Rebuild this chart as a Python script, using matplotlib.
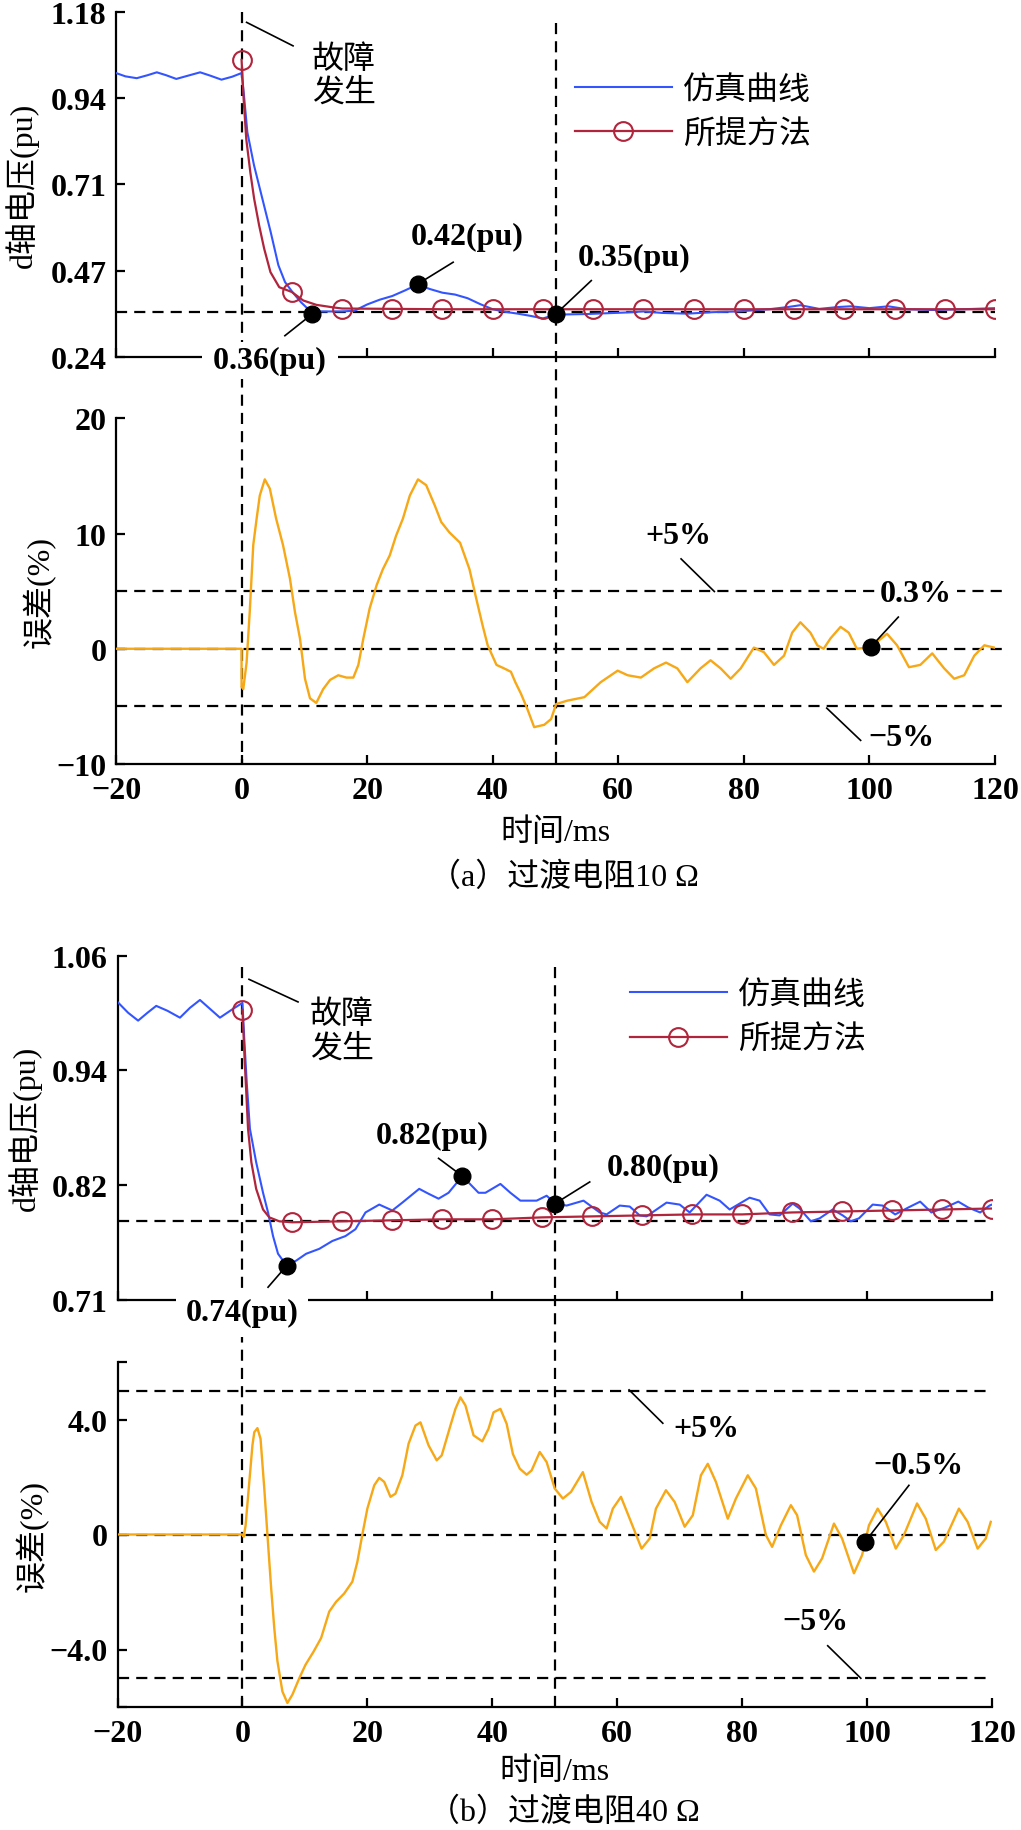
import matplotlib
matplotlib.use("Agg")
import matplotlib.pyplot as plt
from matplotlib.transforms import blended_transform_factory

plt.rcParams['font.family'] = ['Liberation Serif', 'Noto Sans CJK SC']
plt.rcParams['font.size'] = 23
plt.rcParams['axes.unicode_minus'] = True

BLUE = '#3355ff'
RED = '#b0243c'
ORANGE = '#f6a816'
DASH = (0, (5, 3.2))
W, H = 1021, 1831

# ---------------- (a) 10 ohm ----------------
sim_a_t = [-20, -18.5, -16.7, -15, -13.5, -12, -10.4, -8.5, -6.6, -5, -3.2, -1.5, 0,
           0.39, 0.92, 1.98, 3.31, 4.64, 5.86, 6.92, 8.09, 9.41, 10.5, 11.3, 12, 14, 16, 18,
           20, 22, 24, 26, 28, 30, 32, 34, 36, 38, 40, 42, 44, 46, 48, 50, 52, 55, 58, 61,
           64, 67, 71, 75, 79, 84, 87, 89, 92, 95, 97, 100, 103, 106, 110, 115, 120]
sim_a_v = [1.013, 1.004, 0.999, 1.007, 1.015, 1.007, 0.997, 1.006, 1.015, 1.006, 0.995, 1.003, 1.013,
           0.951, 0.852, 0.762, 0.671, 0.580, 0.490, 0.444, 0.417, 0.390, 0.372, 0.365, 0.364, 0.364, 0.364, 0.366,
           0.383, 0.396, 0.406, 0.421, 0.437, 0.425, 0.415, 0.410, 0.400, 0.384, 0.370, 0.363, 0.358, 0.352, 0.345, 0.355, 0.356, 0.357, 0.359, 0.361,
           0.364, 0.360, 0.358, 0.362, 0.364, 0.370, 0.376, 0.381, 0.371, 0.376, 0.378, 0.373, 0.378, 0.370, 0.368, 0.370, 0.373]

prop_a_t = [0, 0.33, 0.75, 1.4, 2, 2.8, 3.6, 4.6, 6, 8, 9.8, 11.9, 14.6, 16, 24, 32, 40, 48, 56,
            64, 72, 80, 88, 96, 104, 112, 120]
prop_a_v = [1.049, 0.942, 0.833, 0.742, 0.671, 0.598, 0.535, 0.471, 0.430, 0.417, 0.394, 0.382, 0.375,
            0.372, 0.371, 0.370, 0.370, 0.370, 0.370, 0.370, 0.370, 0.370, 0.370, 0.370, 0.370, 0.370, 0.370]

err_a_t = [-20, 0, 0, 0.27, 0.8, 1.3, 1.86, 2.4, 2.9, 3.7, 4.5, 5.5, 6.6, 7.7, 8.5, 9.3, 10.1, 10.9,
           11.9, 13, 14.1, 15.4, 16.7, 17.8, 18.6, 19.4, 20.4, 21.5, 22.5, 23.6, 24.6, 25.7, 26.8,
           28.1, 29.4, 30.8, 31.8, 33.1, 34.8, 36.3, 37.4, 38.4, 39.2, 40.6, 41.8, 42.9, 43.6, 44.5,
           45.5, 46.6, 48.2, 49.3, 50.1, 51.9, 54.6, 57.2, 59.9, 61.5, 63.6, 65.7, 67.6, 69.4, 71,
           73.1, 74.7, 76.3, 77.9, 79.5, 81.6, 83.2, 84.8, 86.4, 87.7, 89, 90.6, 91.7, 92.7, 93.8,
           95.4, 96.7, 98, 100.2, 102.8, 104.4, 106.3, 108.1, 110, 111.9, 113.5, 115.1, 116.7,
           118.3, 119.9]
err_a_v = [0, 0, -3.3, -3.5, -1.2, 3.2, 9.0, 11.3, 13.3, 14.7, 13.9, 11.3, 9.0, 6.1, 3.2, 0.9, -2.6, -4.3,
           -4.7, -3.5, -2.7, -2.3, -2.5, -2.5, -1.4, 0.9, 3.5, 5.5, 6.9, 8.1, 9.8, 11.3, 13.3,
           14.7, 14.2, 12.4, 11.0, 10.1, 9.2, 6.9, 4.3, 2.0, 0.3, -1.4, -1.7, -2.0, -2.9, -3.9,
           -5.2, -6.8, -6.6, -6.1, -4.8, -4.5, -4.2, -2.9, -1.9, -2.3, -2.5, -1.7, -1.2, -1.7, -2.9,
           -1.7, -1.0, -1.7, -2.6, -1.7, 0.1, -0.3, -1.4, -0.6, 1.4, 2.3, 1.4, 0.3, 0.0, 0.9,
           1.9, 1.4, 0.0, 0.15, 1.3, 0.3, -1.6, -1.4, -0.4, -1.7, -2.6, -2.3, -0.6,
           0.3, 0.1]

ref_a = 0.363
pts_a_t = [11.25, 28.1, 50.05]
pts_a_v = [0.357, 0.439, 0.357]
err_pt_a = (100.2, 0.15)

# ---------------- (b) 40 ohm ----------------
sim_b_t = [-20, -18.3, -16.7, -15.2, -13.8, -12, -10, -8.4, -6.8, -5.2, -3.6, -1.5, 0,
           0.3, 0.7, 1.2, 2.2, 3.3, 4.1, 4.9, 5.7, 6.5, 7.1, 8.6, 10.2, 12.3, 14.4, 16.5, 18.1,
           19.7, 21.9, 24, 25.6, 28.3, 29.8, 31.4, 33, 35.2, 37.8, 38.9, 41.3, 42.9, 44.5, 47.1,
           48.7, 50.1, 51.9, 54.6, 57.2, 58.3, 60.4, 62, 63.6, 64.7, 67.9, 70, 71.6, 74.3, 76.4,
           78, 81.2, 82.8, 84.4, 86, 88.1, 89.2, 91, 92.4, 94.5, 96.1, 97.4, 98.7, 100.9, 102.5,
           104.5, 106.6, 108.5, 110.3, 112.5, 114.6, 116.2, 118.1, 119.6, 120]
sim_b_v = [1.013, 1.002, 0.994, 1.002, 1.009, 1.004, 0.997, 1.007, 1.015, 1.006, 0.997, 1.006, 1.012,
           0.975, 0.930, 0.884, 0.850, 0.819, 0.799, 0.775, 0.757, 0.750, 0.745, 0.750, 0.757, 0.762, 0.770, 0.775, 0.782,
           0.799, 0.807, 0.801, 0.809, 0.823, 0.818, 0.813, 0.819, 0.836, 0.819, 0.819, 0.828, 0.819, 0.811, 0.811,
           0.816, 0.808, 0.806, 0.811, 0.799, 0.797, 0.806, 0.805, 0.796, 0.795, 0.809, 0.807, 0.799, 0.817, 0.811,
           0.802, 0.814, 0.811, 0.797, 0.796, 0.808, 0.803, 0.790, 0.793, 0.802, 0.796, 0.790, 0.793, 0.807, 0.806,
           0.797, 0.804, 0.810, 0.799, 0.804, 0.810, 0.804, 0.799, 0.806, 0.807]

prop_b_t = [0, 0.37, 0.64, 0.9, 1.43, 2.2, 3.3, 4.3, 5.9, 8, 16, 24, 32, 40, 48, 56, 64, 72, 80,
            88, 96, 104, 112, 120]
prop_b_v = [1.005, 0.952, 0.918, 0.884, 0.850, 0.823, 0.802, 0.794, 0.790, 0.789, 0.790, 0.791, 0.792,
            0.792, 0.794, 0.795, 0.796, 0.797, 0.797, 0.799, 0.800, 0.801, 0.802, 0.803]

err_b_t = [-20, 0, 0.2, 0.5, 1.05, 1.6, 1.9, 2.4, 2.9, 3.5, 4.0, 4.6, 5.1, 5.6, 6.4, 7.2, 8.0, 9.1,
           10.1, 11.4, 12.6, 13.9, 15, 16.3, 17.6, 18.4, 19.2, 20, 21.1, 21.9, 22.7, 23.7, 24.5,
           25.6, 26.6, 27.7, 28.5, 29.8, 31.1, 31.9, 33.3, 34.1, 34.9, 35.7, 37.0, 38.4, 39.4, 40.2,
           41.3, 42.3, 43.3, 44.4, 45.5, 46.3, 47.6, 48.7, 50, 51.3, 52.6, 54.5, 55.9, 57.2, 58.3,
           59.3, 60.6, 62, 63.9, 65.2, 66.2, 67.8, 69.2, 70.8, 72.1, 73.4, 74.5, 75.8, 77.7, 79.0,
           80.9, 82.2, 83.8, 84.8, 86.2, 87.8, 88.8, 90.2, 91.5, 92.8, 94.7, 96.0, 97.9, 99.2,
           100.3, 101.7, 103.0, 104.6, 105.9, 108.0, 109.4, 111, 112.3, 114.7, 116.1, 117.7, 119,
           119.8]
err_b_v = [0, 0, -0.08, 0.3, 1.7, 3.1, 3.56, 3.7, 3.33, 1.6, 0, -1.87, -3.26, -4.4, -5.46, -5.86, -5.57, -5.0,
           -4.53, -4.07, -3.6, -2.68, -2.34, -2.05, -1.64, -0.95, 0, 0.9, 1.71, 1.97, 1.83, 1.31, 1.42,
           2.06, 3.16, 3.79, 3.9, 3.1, 2.58, 2.75, 3.79, 4.37, 4.77, 4.49, 3.45, 3.24, 3.68, 4.25,
           4.37, 3.85, 2.8, 2.29, 2.08, 2.23, 2.87, 2.52, 1.6, 1.25, 1.48, 2.17, 1.13, 0.44, 0.21,
           0.9, 1.31, 0.55, -0.49, -0.14, 0.9, 1.54, 1.13, 0.27, 0.67, 2.06, 2.46, 1.83, 0.55, 1.25,
           2.06, 1.6, -0.02, -0.43, 0.32, 1.02, 0.67, -0.72, -1.29, -0.83, 0.38, -0.14, -1.35, -0.72,
           0.32, 0.9, 0.44, -0.49, -0.02, 1.08, 0.55, -0.54, -0.25, 0.9, 0.44, -0.49, -0.14,
           0.44]

ref_b = 0.790
pts_b_t = [7.1, 35.2, 50.05]
pts_b_v = [0.745, 0.836, 0.808]
err_pt_b = (99.7, -0.25)

xticks = [-20, 0, 20, 40, 60, 80, 100, 120]
xlabels = ['−20', '0', '20', '40', '60', '80', '100', '120']


def frac(left, top, right, bottom):
    return [left / W, 1 - bottom / H, (right - left) / W, (bottom - top) / H]


def style(ax, ylim, yticks, ylabels, ylabel, ylab_x, show_x):
    ax.set_facecolor('none')
    for s in ['top', 'right']:
        ax.spines[s].set_visible(False)
    for s in ['left', 'bottom']:
        ax.spines[s].set_linewidth(1.6)
    ax.set_xlim(-20, 120)
    ax.set_ylim(*ylim)
    ax.set_xticks(xticks)
    ax.set_yticks(yticks)
    ax.set_yticklabels(ylabels, fontweight='bold')
    ax.tick_params(direction='in', length=6.5, width=1.6, pad=7)
    ax.tick_params(axis='x', pad=9, labelbottom=show_x)
    if show_x:
        ax.set_xticklabels(xlabels, fontweight='bold')
    ax.set_ylabel(ylabel, va='center')
    ax.yaxis.set_label_coords(ylab_x, 0.5)


def vline(ax, x, top_px, bottom_px):
    tr = blended_transform_factory(ax.transData, fig.transFigure)
    ax.plot([x, x], [1 - top_px / H, 1 - bottom_px / H], transform=tr, color='k',
            lw=1.6, ls=DASH, clip_on=False, zorder=2)


def hline(ax, y, x1):
    ax.plot([-20, x1], [y, y], color='k', lw=1.6, ls=DASH, clip_on=False, zorder=1)


def note(ax, txt, x, y, line, box_pad=None):
    ax.plot([line[0], line[2]], [line[1], line[3]], color='k', lw=1.2, clip_on=False, zorder=4)
    kw = {}
    if box_pad is not None:
        kw['bbox'] = dict(boxstyle='square,pad=%s' % box_pad, fc='white', ec='none')
    ax.text(x, y, txt, ha='center', va='center', fontweight='bold', clip_on=False, zorder=10, **kw)


fig = plt.figure(figsize=(W / 100, H / 100), dpi=100)
ax1 = fig.add_axes(frac(116, 12.7, 995, 358))
ax2 = fig.add_axes(frac(116, 419.3, 995, 765))
ax3 = fig.add_axes(frac(117.5, 956.7, 992, 1301))
ax4 = fig.add_axes(frac(117.5, 1363, 992, 1708))

# ---- panel 1 ----
hline(ax1, ref_a, 120)
mk_a = [t % 8 == 0 for t in prop_a_t]
ax1.plot(sim_a_t, sim_a_v, color=BLUE, lw=1.5, label='仿真曲线', zorder=3)
ax1.plot(prop_a_t, prop_a_v, color=RED, lw=1.6, marker='o', ms=13.5, mfc='none', mew=1.5,
         markevery=mk_a, label='所提方法', zorder=3)
ax1.plot(pts_a_t, pts_a_v, 'o', color='k', ms=12, zorder=5)
ax1.text(11.2, 1.004, '故障\n发生', ha='left', va='center', zorder=10)
ax1.plot([0.8, 8.2], [1.151, 1.087], color='k', lw=1.2)
note(ax1, '0.42(pu)', 36.0, 0.567, (33.7, 0.498, 28.1, 0.439))
note(ax1, '0.35(pu)', 62.6, 0.511, (55.7, 0.448, 50.05, 0.357))
note(ax1, ' 0.36(pu) ', 4.5, 0.230, (6.9, 0.298, 11.25, 0.357), box_pad=0.12)
ax1.legend(loc='center left', bbox_to_anchor=(0.522, 0.709), frameon=False, borderpad=0,
           borderaxespad=0, handlelength=3.03, handletextpad=0.37, labelspacing=0.46, numpoints=1)
style(ax1, (0.24, 1.18), [0.24, 0.475, 0.71, 0.945, 1.18],
      ['0.24', '0.47', '0.71', '0.94', '1.18'], 'd轴电压(pu)', -0.107, False)

# ---- panel 2 ----
for lv in [5, 0, -5]:
    hline(ax2, lv, 122)
ax2.plot(err_a_t, err_a_v, color=ORANGE, lw=1.7, zorder=3)
ax2.plot([err_pt_a[0]], [err_pt_a[1]], 'o', color='k', ms=12, zorder=5)
note(ax2, '+5%', 69.6, 9.83, (70.0, 7.8, 75.3, 4.97))
note(ax2, '0.3%', 107.4, 4.77, (104.6, 2.75, 100.2, 0.15), box_pad=0.15)
note(ax2, '−5%', 105.1, -7.66, (93.2, -5.15, 98.6, -7.95))
style(ax2, (-10, 20), [-10, 0, 10, 20], ['−10', '0', '10', '20'], '误差(%)', -0.087, True)
ax2.set_xlabel('时间/ms', va='center')
ax2.xaxis.set_label_coords(0.5, -0.197)

# ---- panel 3 ----
hline(ax3, ref_b, 120)
mk_b = [t % 8 == 0 for t in prop_b_t]
ax3.plot(sim_b_t, sim_b_v, color=BLUE, lw=1.5, label='仿真曲线', zorder=3)
ax3.plot(prop_b_t, prop_b_v, color=RED, lw=1.6, marker='o', ms=13.5, mfc='none', mew=1.5,
         markevery=mk_b, label='所提方法', zorder=3)
ax3.plot(pts_b_t, pts_b_v, 'o', color='k', ms=12, zorder=5)
ax3.text(10.75, 0.983, '故障\n发生', ha='left', va='center', zorder=10)
ax3.plot([1.05, 8.9], [1.036, 1.013], color='k', lw=1.2)
note(ax3, '0.82(pu)', 30.4, 0.877, (31.4, 0.854, 35.2, 0.836))
note(ax3, '0.80(pu)', 67.3, 0.845, (55.6, 0.830, 50.05, 0.808))
note(ax3, '0.74(pu)', 0.0, 0.697, (4.1, 0.723, 7.1, 0.745), box_pad=0.3)
ax3.legend(loc='center left', bbox_to_anchor=(0.586, 0.8196), frameon=False, borderpad=0,
           borderaxespad=0, handlelength=3.03, handletextpad=0.34, labelspacing=0.46, numpoints=1)
style(ax3, (0.71, 1.06), [0.71, 0.8267, 0.9433, 1.06],
      ['0.71', '0.82', '0.94', '1.06'], 'd轴电压(pu)', -0.106, False)

# ---- panel 4 ----
for lv in [5, 0, -5]:
    hline(ax4, lv, 119.6)
ax4.plot(err_b_t, err_b_v, color=ORANGE, lw=1.7, zorder=3)
ax4.plot([err_pt_b[0]], [err_pt_b[1]], 'o', color='k', ms=12, zorder=5)
note(ax4, '+5%', 74.2, 3.68, (61.9, 5.03, 67.3, 3.87))
note(ax4, '−0.5%', 108.3, 2.40, (106.7, 1.71, 99.7, -0.25))
note(ax4, '−5%', 91.7, -3.03, (93.7, -3.87, 99.0, -5.0))
style(ax4, (-6, 6), [-6, -4, 0, 4, 6], ['', '−4.0', '0', '4.0', ''], '误差(%)', -0.097, True)
ax4.set_xlabel('时间/ms', va='center')
ax4.xaxis.set_label_coords(0.5, -0.185)

# vertical dashed markers spanning the two stacked panels
vline(ax1, 0, 12.7, 765)
vline(ax1, 50, 24, 765)
vline(ax3, 0, 968, 1708)
vline(ax3, 50, 968, 1708)
for ax in [ax1, ax3]:
    ax.set_xlim(-20, 120)
ax1.set_ylim(0.24, 1.18)
ax3.set_ylim(0.71, 1.06)

fig.text(564 / W, 1 - 878 / H, '（a）过渡电阻10 Ω', ha='center', va='center')
fig.text(564 / W, 1 - 1813 / H, '（b）过渡电阻40 Ω', ha='center', va='center')

fig.savefig('out.png', dpi=100, facecolor='white')
